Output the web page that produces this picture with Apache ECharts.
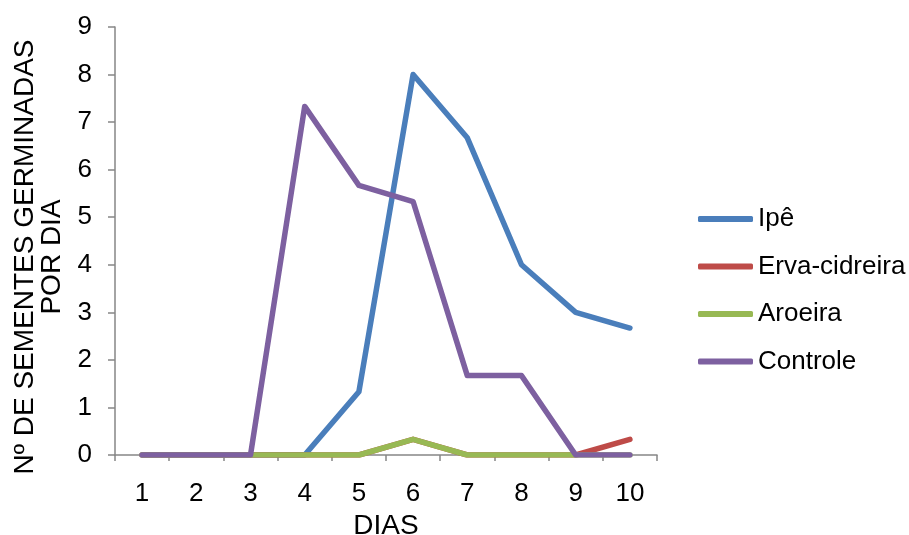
<!DOCTYPE html>
<html>
<head>
<meta charset="utf-8">
<script src="https://cdn.jsdelivr.net/npm/echarts@6/dist/echarts.min.js"></script>
<style>
html,body{margin:0;padding:0;background:#fff;}
#chart{width:909px;height:535px;}
</style>
</head>
<body>
<div id="chart"></div>
<script>
const categories = ['1','2','3','4','5','6','7','8','9','10'];
const ipe = [0,0,0,0,1.33,8,6.67,4,3,2.67];
const ervaCidreira = [0,0,0,0,0,0.33,0,0,0,0.33];
const aroeira = [0,0,0,0,0,0.33,0,0,0,0];
const controle = [0,0,0,7.33,5.67,5.33,1.67,1.67,0,0];
const seriesNames = ['Ipê','Erva-cidreira','Aroeira','Controle'];
const colors = ['#4A7EBB','#BE4B48','#98B954','#7D60A0'];

const FONT = '"Liberation Sans", Arial, sans-serif';
const chart = echarts.init(document.getElementById('chart'));
const mk = (name, data, color) => ({
  name, type:'line', data, symbol:'none', color,
  lineStyle:{width:5.5, color, cap:'round', join:'round'},
  emphasis:{disabled:true}, animation:false
});
chart.setOption({
  animation:false,
  grid:{left:115, right:252, top:27, bottom:80, containLabel:false, outerBoundsMode:'none'},
  legend:{
    orient:'vertical', left:693, top:199,
    itemWidth:55, itemHeight:6, itemGap:17.5, itemTextGap:4,
    icon:'roundRect',
    data:seriesNames,
    textStyle:{fontFamily:FONT, fontSize:26, color:'#000', lineHeight:30}
  },
  xAxis:{
    type:'category', data:categories, boundaryGap:true,
    name:'DIAS', nameLocation:'middle', nameGap:55,
    nameTextStyle:{fontFamily:FONT, fontSize:28, color:'#000'},
    axisLine:{lineStyle:{color:'#868686', width:1.5}},
    axisTick:{show:true, length:6, inside:false, alignWithLabel:false, lineStyle:{color:'#868686', width:1.5}},
    axisLabel:{fontFamily:FONT, fontSize:26, color:'#000', margin:26},
    splitLine:{show:false}
  },
  yAxis:{
    type:'value', min:0, max:9, interval:1,
    name:'Nº DE SEMENTES GERMINADAS\nPOR DIA', nameLocation:'middle', nameGap:48, nameRotate:90,
    nameTextStyle:{fontFamily:FONT, fontSize:28, color:'#000', lineHeight:27, padding:[0,32,0,0]},
    axisLine:{show:true, lineStyle:{color:'#868686', width:1.5}},
    axisTick:{show:true, length:7, lineStyle:{color:'#868686', width:1.5}},
    axisLabel:{fontFamily:FONT, fontSize:26, color:'#000', margin:23},
    splitLine:{show:false}
  },
  series:[
    mk(seriesNames[0], ipe, colors[0]),
    mk(seriesNames[1], ervaCidreira, colors[1]),
    mk(seriesNames[2], aroeira, colors[2]),
    mk(seriesNames[3], controle, colors[3])
  ]
});
</script>
</body>
</html>
